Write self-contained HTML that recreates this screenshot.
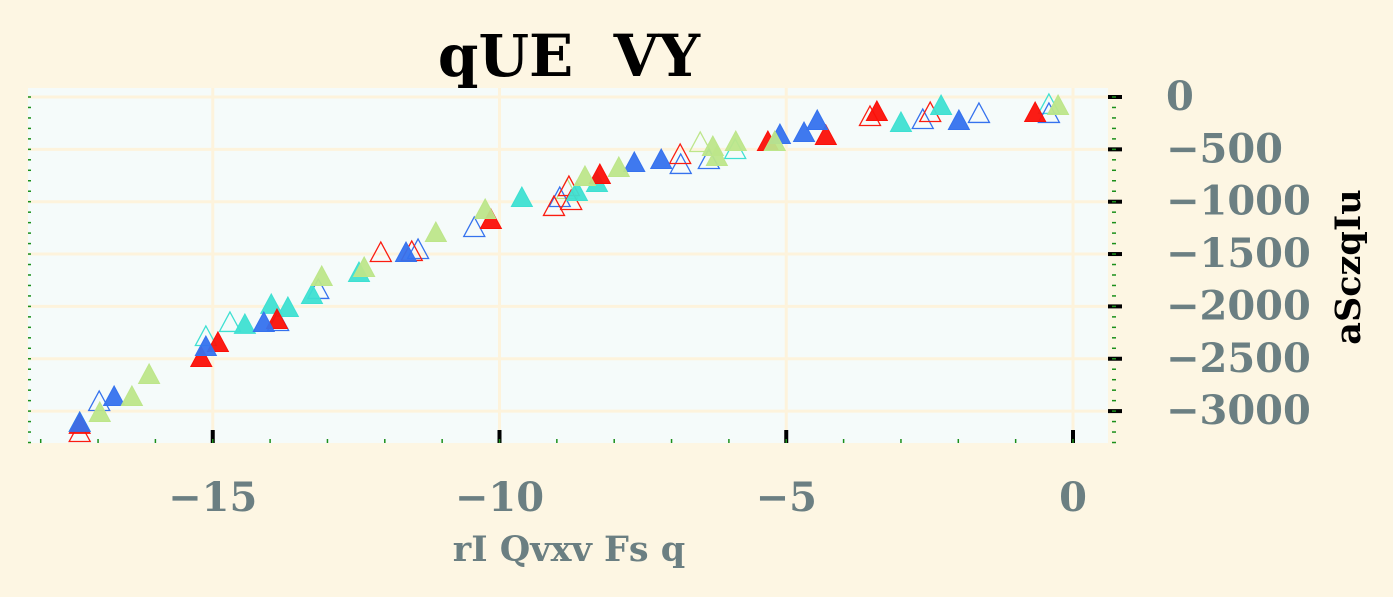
<!DOCTYPE html>
<html><head><meta charset="utf-8"><style>
html,body{margin:0;padding:0;background:#fdf6e3;}
svg{display:block;}
</style></head><body>
<svg id="chart" width="1393" height="597" xmlns="http://www.w3.org/2000/svg">
<rect x="0" y="0" width="1393" height="597" fill="#fdf6e3"/>
<rect x="28" y="88" width="1080" height="355" fill="#f5fbfa"/>
<g id="grid"></g>
<g id="ticks"></g>
<g id="marks"></g>
<text x="569" y="76" text-anchor="middle" style="white-space:pre" font-family="'DejaVu Serif','Liberation Serif',serif" font-weight="bold" font-size="58" fill="#000">qUE  VY</text>
<text x="569" y="561" text-anchor="middle" font-family="'DejaVu Serif','Liberation Serif',serif" font-weight="bold" font-size="35" fill="#6b7f82">rI Qvxv Fs q</text>
<text transform="translate(1360,267) rotate(-90)" text-anchor="middle" font-family="'DejaVu Serif','Liberation Serif',serif" font-weight="bold" font-size="35" fill="#000">aSczqIu</text>
</svg>
<script>
const xTicks=[-15,-10,-5,0];
const xTickLabels=["\u221215","\u221210","\u22125","0"];
const yTicks=[0,-500,-1000,-1500,-2000,-2500,-3000];
const yTickLabels=["0","\u2212500","\u22121000","\u22121500","\u22122000","\u22122500","\u22123000"];
const seriesNames=["red-filled","red-hollow","blue-filled","blue-hollow","teal-filled","teal-hollow","green-filled","green-hollow"];
const redFilledX=[-17.32,-15.20,-14.91,-13.88,-10.15,-8.25,-5.32,-4.31,-3.42,-0.66];
const redFilledY=[-3132,-2493,-2349,-2130,-1175,-745,-430,-372,-143,-153];
const redHollowX=[-17.32,-12.07,-11.53,-9.05,-8.79,-8.75,-6.85,-3.54,-2.49];
const redHollowY=[-3209,-1490,-1480,-1050,-860,-993,-554,-191,-153];
const blueFilledX=[-17.32,-16.72,-15.12,-14.11,-11.63,-7.65,-7.18,-5.11,-4.69,-4.46,-1.99];
const blueFilledY=[-3113,-2865,-2388,-2158,-1490,-630,-602,-363,-344,-229,-229];
const blueHollowX=[-16.98,-13.86,-13.16,-11.42,-10.44,-8.95,-6.84,-6.35,-2.62,-1.64,-0.42];
const blueHollowY=[-2913,-2149,-1843,-1461,-1251,-965,-649,-602,-220,-162,-162];
const tealFilledX=[-17.32,-14.44,-13.98,-13.69,-13.27,-12.45,-9.61,-8.65,-8.30,-3.00,-2.30];
const tealFilledY=[-3113,-2177,-1986,-2015,-1891,-1681,-965,-907,-821,-248,-86];
const tealHollowX=[-15.12,-14.70,-5.89,-0.42];
const tealHollowY=[-2292,-2158,-506,-76];
const greenFilledX=[-16.97,-16.41,-16.11,-13.10,-12.36,-11.11,-10.25,-8.51,-7.92,-6.28,-6.21,-5.88,-5.20,-0.26];
const greenFilledY=[-3018,-2865,-2655,-1719,-1633,-1299,-1079,-764,-678,-478,-573,-430,-430,-86];
const greenHollowX=[-6.50,-8.82];
const greenHollowY=[-439,-888];

const NS="http://www.w3.org/2000/svg";
const X0=1073, XS=57.35, Y0=97, YS=0.1047;
function sx(v){return X0+v*XS;}
function sy(v){return Y0-v*YS;}
const L=28,R=1108,T=88,B=443;
const grid=document.getElementById('grid');
const ticks=document.getElementById('ticks');
const marks=document.getElementById('marks');
function mk(tag,attrs,parent){const e=document.createElementNS(NS,tag);for(const k in attrs)e.setAttribute(k,attrs[k]);parent.appendChild(e);return e;}

xTicks.forEach((t,i)=>{
  const x=sx(t);
  const g=mk('line',{x1:x,x2:x,y1:T,y2:B,stroke:'#fdf3dc','stroke-width':3},grid);
  
  
  const tk=mk('line',{x1:x,x2:x,y1:B,y2:B-13,stroke:'#000','stroke-width':4},ticks);
  
  
  const lb=mk('text',{x:x,y:511,'text-anchor':'middle','font-family':"'DejaVu Serif','Liberation Serif',serif",'font-weight':'bold','font-size':40,fill:'#6b7f82'},ticks);
  lb.textContent=xTickLabels[i];
  
  
});
for(let v=-18;v<=0.5;v+=1){
  const x=sx(v);
  if(x<L||x>R)continue;
  const m=mk('line',{x1:x,x2:x,y1:B,y2:B-4,stroke:'#1a8f1a','stroke-width':1.5},ticks);
  
  
}
yTicks.forEach((t,i)=>{
  const y=sy(t);
  const g=mk('line',{x1:L,x2:R,y1:y,y2:y,stroke:'#fdf3dc','stroke-width':3},grid);
  
  
  const tk=mk('line',{x1:R,x2:R+14,y1:y,y2:y,stroke:'#000','stroke-width':4},ticks);
  
  
  const lb=mk('text',{x:1166,y:y+13,'text-anchor':'start','font-family':"'DejaVu Serif','Liberation Serif',serif",'font-weight':'bold','font-size':40,fill:'#6b7f82'},ticks);
  lb.textContent=yTickLabels[i];
  
  
});
for(let v=100;v>=-3300;v-=100){
  const y=sy(v);
  if(y<T||y>B)continue;
  const a=mk('line',{x1:L,x2:L+3,y1:y,y2:y,stroke:'#1a8f1a','stroke-width':1.5},ticks);
  
  
  const b=mk('line',{x1:R+4,x2:R+8,y1:y,y2:y,stroke:'#1a8f1a','stroke-width':1.5},ticks);
  
  
}
function tri(x,y){return (x)+','+(y-11)+' '+(x-10.5)+','+(y+8.5)+' '+(x+10.5)+','+(y+8.5);}
function drawSeries(xs,ys,color,filled,name){
  xs.forEach((v,i)=>{
    const px=sx(v),py=sy(ys[i]);
    const p=mk('polygon',{points:tri(px,py),fill:filled?color:'none',stroke:color,'stroke-width':filled?1:1.3,'fill-opacity':filled?0.95:0},marks);
    
    
  });
}
drawSeries(greenHollowX,greenHollowY,'#bde68a',false,'point-green-hollow');
drawSeries(tealHollowX,tealHollowY,'#3ee0d2',false,'point-teal-hollow');
drawSeries(blueHollowX,blueHollowY,'#3572ee',false,'point-blue-hollow');
drawSeries(redHollowX,redHollowY,'#fb1c10',false,'point-red-hollow');
drawSeries(tealFilledX,tealFilledY,'#3ee0d2',true,'point-teal-filled');
drawSeries(redFilledX,redFilledY,'#fb1008',true,'point-red-filled');
drawSeries(blueFilledX,blueFilledY,'#3572ee',true,'point-blue-filled');
drawSeries(greenFilledX,greenFilledY,'#bde68a',true,'point-green-filled');
</script>
</body></html>
